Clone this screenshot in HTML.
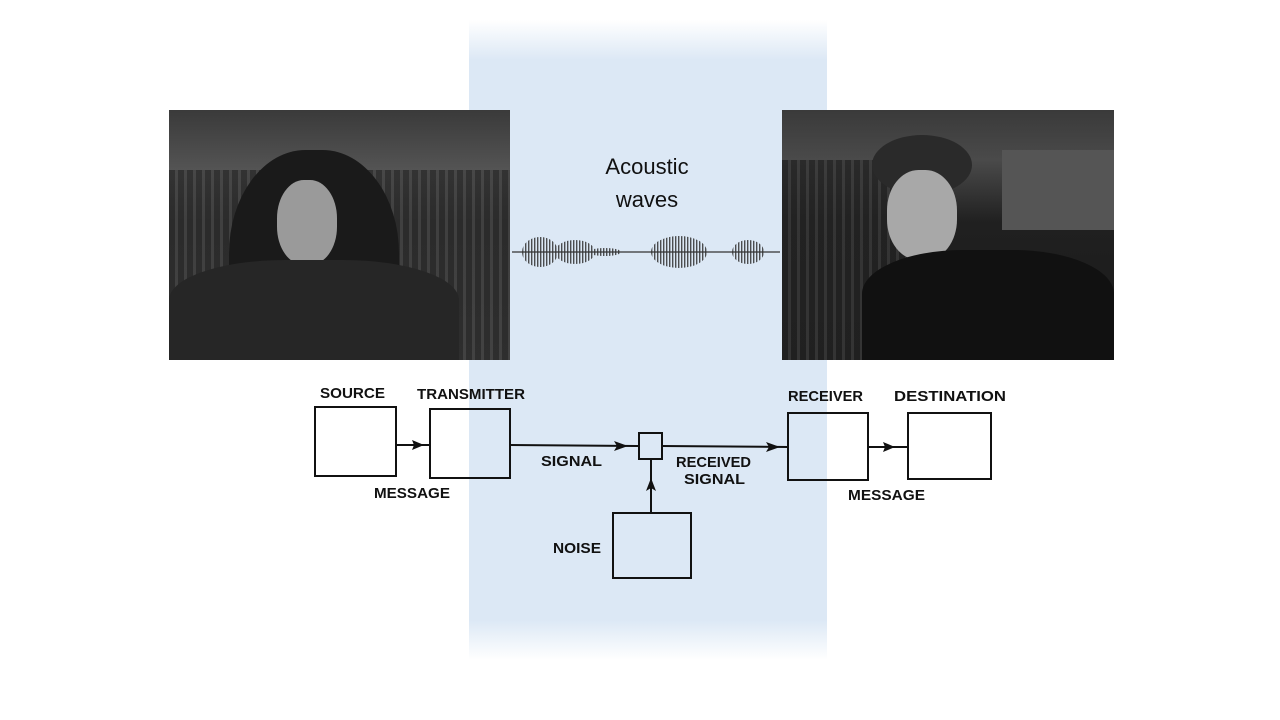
<!DOCTYPE html>
<html><head><meta charset="utf-8"><style>
html,body{margin:0;padding:0;background:#fff;}
body{width:1280px;height:720px;position:relative;overflow:hidden;font-family:"Liberation Sans",sans-serif;}
.band{position:absolute;left:469px;top:20px;width:358px;height:640px;background:linear-gradient(to bottom,rgba(220,232,245,0) 0px,#dce8f5 40px,#dce8f5 600px,rgba(220,232,245,0) 640px);}
.photo{position:absolute;top:110px;height:250px;overflow:hidden;}
</style></head><body>
<div class="band"></div>

<div class="photo" style="left:169px;width:341px;background:linear-gradient(to bottom,#3a3a3a 0%,#555 25%,#2e2e2e 45%,#3c3c3c 100%);">
  <div style="position:absolute;left:0;top:60px;width:341px;height:190px;background:repeating-linear-gradient(to right,#2a2a2a 0 6px,#444 6px 9px);opacity:.8"></div>
  <div style="position:absolute;left:60px;top:40px;width:170px;height:230px;border-radius:45% 45% 10% 10%;background:#1a1a1a"></div>
  <div style="position:absolute;left:108px;top:70px;width:60px;height:85px;border-radius:45%;background:#9a9a9a"></div>
  <div style="position:absolute;left:0;top:150px;width:290px;height:100px;border-radius:40% 40% 0 0;background:#262626"></div>
</div>

<div class="photo" style="left:782px;width:332px;background:linear-gradient(to bottom,#3a3a3a 0%,#4a4a4a 20%,#202020 45%,#1a1a1a 100%);">
  <div style="position:absolute;left:0;top:50px;width:160px;height:200px;background:repeating-linear-gradient(to right,#222 0 6px,#3a3a3a 6px 9px);opacity:.8"></div>
  <div style="position:absolute;left:220px;top:40px;width:112px;height:80px;background:#555"></div>
  <div style="position:absolute;left:90px;top:25px;width:100px;height:60px;border-radius:50%;background:#2a2a2a"></div>
  <div style="position:absolute;left:105px;top:60px;width:70px;height:90px;border-radius:45%;background:#a8a8a8"></div>
  <div style="position:absolute;left:80px;top:140px;width:252px;height:110px;border-radius:40% 40% 0 0;background:#111"></div>
</div>

<div style="position:absolute;left:547px;top:150px;width:200px;text-align:center;font-size:22px;line-height:33px;color:#111;">Acoustic<br>waves</div>

<svg width="1280" height="720" style="position:absolute;left:0;top:0">
  <defs>
    <pattern id="st" width="3" height="40" patternUnits="userSpaceOnUse">
      <rect width="1.4" height="40" fill="#333"/>
    </pattern>
  </defs>
  <line x1="512" y1="252" x2="780" y2="252" stroke="#333" stroke-width="1.2"/>
  <g fill="url(#st)" opacity=".85">
    <ellipse cx="540" cy="252" rx="18" ry="15"/>
    <ellipse cx="575" cy="252" rx="20" ry="12"/>
    <ellipse cx="605" cy="252" rx="16" ry="4"/>
    <ellipse cx="679" cy="252" rx="28" ry="16"/>
    <ellipse cx="748" cy="252" rx="16" ry="12"/>
  </g>

  <g fill="none" stroke="#111" stroke-width="2">
    <rect x="315" y="407" width="81" height="69"/>
    <rect x="430" y="409" width="80" height="69"/>
    <rect x="639" y="433" width="23" height="26"/>
    <rect x="788" y="413" width="80" height="67"/>
    <rect x="908" y="413" width="83" height="66"/>
    <rect x="613" y="513" width="78" height="65"/>
    <line x1="396" y1="445" x2="430" y2="445"/>
    <line x1="510" y1="445" x2="639" y2="446"/>
    <line x1="662" y1="446" x2="788" y2="447"/>
    <line x1="868" y1="447" x2="908" y2="447"/>
    <line x1="651" y1="513" x2="651" y2="459"/>
  </g>
  <g fill="#111">
    <polygon points="424,445 412,440 414,445 412,450"/>
    <polygon points="628,446 614,441 617,446 614,451"/>
    <polygon points="780,447 766,442 769,447 766,452"/>
    <polygon points="895,447 883,442 885,447 883,452"/>
    <polygon points="651,478 646,491 651,488 656,491"/>
  </g>
  <g font-family="Liberation Sans, sans-serif" font-size="15" fill="#111" font-weight="bold">
    <text x="320" y="398" textLength="65" lengthAdjust="spacingAndGlyphs">SOURCE</text>
    <text x="417" y="399" textLength="108" lengthAdjust="spacingAndGlyphs">TRANSMITTER</text>
    <text x="788" y="401" textLength="75" lengthAdjust="spacingAndGlyphs">RECEIVER</text>
    <text x="894" y="401" textLength="112" lengthAdjust="spacingAndGlyphs">DESTINATION</text>
    <text x="374" y="498" textLength="76" lengthAdjust="spacingAndGlyphs">MESSAGE</text>
    <text x="541" y="466" textLength="61" lengthAdjust="spacingAndGlyphs">SIGNAL</text>
    <text x="676" y="467" textLength="75" lengthAdjust="spacingAndGlyphs">RECEIVED</text>
    <text x="684" y="484" textLength="61" lengthAdjust="spacingAndGlyphs">SIGNAL</text>
    <text x="848" y="500" textLength="77" lengthAdjust="spacingAndGlyphs">MESSAGE</text>
    <text x="553" y="553" textLength="48" lengthAdjust="spacingAndGlyphs">NOISE</text>
  </g>
</svg>
</body></html>
